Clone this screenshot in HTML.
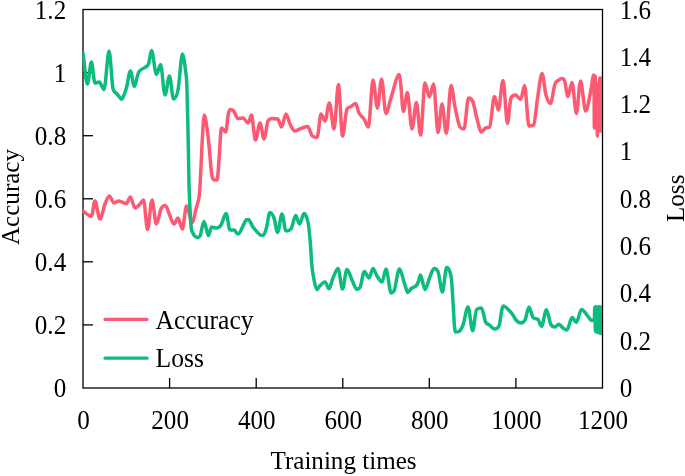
<!DOCTYPE html>
<html lang="en"><head><meta charset="utf-8"><title>Training curves</title>
<style>html,body{margin:0;padding:0;background:#fff;overflow:hidden}</style></head>
<body>
<svg width="685" height="476" viewBox="0 0 685 476" style="display:block">
<rect x="0" y="0" width="685" height="476" fill="#fff"/>
<g stroke="#000" stroke-width="1.3" fill="none">
<rect x="83.0" y="9.5" width="519.5" height="378.5"/>
<line x1="83.0" y1="324.9" x2="93.0" y2="324.9"/>
<line x1="83.0" y1="261.8" x2="93.0" y2="261.8"/>
<line x1="83.0" y1="198.8" x2="93.0" y2="198.8"/>
<line x1="83.0" y1="135.7" x2="93.0" y2="135.7"/>
<line x1="83.0" y1="72.6" x2="93.0" y2="72.6"/>
<line x1="169.6" y1="388.0" x2="169.6" y2="378.0"/>
<line x1="256.2" y1="388.0" x2="256.2" y2="378.0"/>
<line x1="342.8" y1="388.0" x2="342.8" y2="378.0"/>
<line x1="429.3" y1="388.0" x2="429.3" y2="378.0"/>
<line x1="515.9" y1="388.0" x2="515.9" y2="378.0"/>
</g>
<clipPath id="pc"><rect x="82.4" y="0" width="519.6" height="476"/></clipPath>
<g fill="none" stroke-width="3.5" stroke-linecap="round" stroke-linejoin="round" clip-path="url(#pc)">
<path d="M83,211C85.7,212.8 89,216.4 91,216.4C93,216.4 93.5,201 95,201C96.5,201 98.3,219 100,219C101.7,219 103.4,207.8 105,204C106.6,200.2 107.9,196 109.4,196C110.9,196 112.4,203 114,203C115.6,203 117,201 119,201C121,201 124.1,203.6 126,203.6C127.9,203.6 128.9,197 130.4,197C131.9,197 133.4,208 135,208C136.6,208 138.6,205.3 140,204C141.4,202.7 142.3,200 143.6,200C144.9,200 146.2,229.6 147.6,229.6C149,229.6 150.5,200 152,200C153.5,200 154.9,224 156.4,224C157.9,224 159.5,212.1 161,209C162.5,205.9 164,205.6 165.4,205.6C166.8,205.6 168.2,211.9 169.6,215C171,218.1 172.6,224 174,224C175.4,224 176.6,218 178,218C179.4,218 181,229 182.4,229C183.8,229 185,206 186.6,206C188.2,206 190.4,222.4 192,222.4C193.6,222.4 194.9,213 196,209C197.1,205 198.1,202.3 198.8,198.5C199.5,194.7 199.6,192.1 200,186C200.4,179.9 200.8,170 201.2,162C201.6,154 201.9,145.8 202.4,138C202.9,130.2 203.5,115 204.4,115C205.3,115 206.7,125.8 208,136C209.3,146.2 211.1,172.4 212,176C212.9,179.6 212.8,179.2 213.6,179.6C214.4,180 216.1,180 217,180C217.9,180 218.3,168.3 219,160C219.7,151.7 220.5,132 221,130C221.5,128 221.2,128 222,128C222.8,128 224.6,132 225.6,132C226.6,132 227.3,119.7 228,116C228.7,112.3 229.1,109.6 230,109.6C230.9,109.6 232.3,109.6 233.6,111C234.9,112.4 236.4,118.4 238,118.4C239.6,118.4 241.3,118 243,118C244.7,118 246.6,123 248,123C249.4,123 250.5,115 251.4,115C252.3,115 252.9,124.8 253.6,129C254.3,133.2 254.5,140 255.6,140C256.7,140 258.6,123 260,123C261.4,123 262.7,139 264,139C265.3,139 266.7,123.6 268,121C269.3,118.4 270.4,118.4 272,118.4C273.6,118.4 276,118.4 277.6,119C279.2,119.6 280.2,127 281.6,127C283,127 284.6,114 286,114C287.4,114 288.5,121.2 290,124C291.5,126.8 293,131 295,131C297,131 299.9,128.7 302,128C304.1,127.3 305.9,126.6 307.6,126.6C309.3,126.6 310.4,133.8 312,135.6C313.6,137.4 315.5,137.4 317,137.4C318.5,137.4 319.7,114 321,114C322.3,114 323.6,121 325,121C326.4,121 327.9,103 329.4,103C330.9,103 332.5,129 334,129C335.5,129 337,84.6 338.4,84.6C339.8,84.6 341.2,136 342.6,136C344,136 345.6,111.4 347,109C348.4,106.6 349.6,107.5 351,106.6C352.4,105.7 354.3,103.4 355.6,103.4C356.9,103.4 357.6,110.4 359,113C360.4,115.6 362.4,116.7 364,119C365.6,121.3 366.9,127 368.4,127C369.9,127 371.5,80 373,80C374.5,80 376,108 377.4,108C378.8,108 380.2,79 381.6,79C383,79 384.4,113.4 386,113.4C387.6,113.4 388.8,104.5 391,98C393.2,91.5 396.9,74.6 399,74.6C401.1,74.6 402,111.4 403.4,111.4C404.8,111.4 406,92.6 407.4,92.6C408.8,92.6 410.5,129 412,129C413.5,129 415,102.6 416.4,102.6C417.8,102.6 419.2,135 420.6,135C422,135 423.5,83 425,83C426.5,83 428,97 429.4,97C430.8,97 432.2,84 433.6,84C435,84 436.6,132.6 438,132.6C439.4,132.6 440.6,104 442,104C443.4,104 444.9,133.4 446.4,133.4C447.9,133.4 449.6,85.4 451,85.4C452.4,85.4 453.5,100.1 455,107C456.5,113.9 458.5,125 460,127C461.5,129 462.6,129 464,129C465.4,129 467.1,98 468.6,98C470.1,98 471.6,98.5 473,102C474.4,105.5 475.6,114 477,119C478.4,124 480,132 481.4,132C482.8,132 484.2,128.8 485.6,128C487,127.2 488.1,128 489.6,127C491.1,126 492.9,96.6 494.4,96.6C495.9,96.6 497,110 498.4,110C499.8,110 501.5,80.6 503,80.6C504.5,80.6 506.1,123.4 507.4,123.4C508.7,123.4 509.6,101 511,98C512.4,95 514,95 515.6,95C517.2,95 519.1,99.4 520.6,99.4C522.1,99.4 523.2,85.4 524.6,85.4C526,85.4 527.5,126 529,126C530.5,126 532.2,126 533.6,125C535,124 536.2,106.6 537.6,98C539,89.4 540.6,73.4 542,73.4C543.4,73.4 544.6,90 546,95C547.4,100 548.9,103.4 550.4,103.4C551.9,103.4 553.6,87.7 555,84C556.4,80.3 557.3,81.2 558.5,80.3C559.7,79.4 561,78.6 562,78.6C563,78.6 563.8,78.6 564.8,81.5C565.8,84.4 566.8,96.6 568,96.6C569.2,96.6 570.6,82.4 572,82.4C573.4,82.4 575,113.4 576.4,113.4C577.8,113.4 579.1,81 580.6,81C582.1,81 584,111 585.6,111C587.2,111 588.7,101 590,95C591.3,89 592.9,75 593.6,75C594.3,75 594.1,128 594.4,128C594.7,128 594.9,76 595.2,76C595.5,76 595.7,128 596,128C596.3,128 596.6,84 596.8,84C597,84 597.2,136 597.4,136C597.6,136 597.9,84 598.2,84C598.5,84 598.7,131 599,131C599.3,131 599.5,78 599.8,78C600.1,78 600.3,131 600.6,131C600.9,131 601.2,78 601.4,78C601.6,78 601.8,113.3 602,131" stroke="#fb5a72"/>
<path d="M83,53C84.5,63.3 86,84 87.4,84C88.8,84 90.1,62 91.4,62C92.7,62 93.7,83 95,83C96.3,83 97.9,82 99.4,82C100.9,82 102.4,89.6 104,89.6C105.6,89.6 107.5,51 109,51C110.5,51 111.7,83.4 113,88.6C114.3,93.8 115.7,92.2 117,93.8C118.3,95.4 119.8,97.5 120.6,98.4C121.4,99.3 121.3,99.4 121.7,99.4C122.1,99.4 122.1,99.4 122.9,97.6C123.7,95.8 125.2,92.4 126.4,88C127.7,83.6 129.1,71 130.4,71C131.7,71 133,86.4 134.4,86.4C135.8,86.4 136.7,75.2 139,71.6C141.3,68 145.9,68.5 148,65C150.1,61.5 150.2,50.4 151.6,50.4C153,50.4 154.9,74.4 156.4,74.4C157.9,74.4 159.2,64.4 160.6,64.4C162,64.4 163.5,95 165,95C166.5,95 168,76 169.4,76C170.8,76 172.2,99 173.6,99C175,99 176.5,97.5 178,90C179.5,82.5 181.1,54 182.4,54C183.7,54 185.2,68 186,74C186.8,80 186.6,77.3 187,90C187.4,102.7 188.1,134.3 188.4,150C188.7,165.7 188.8,175.7 189,184C189.2,192.3 189.3,193 189.6,200C189.9,207 190.5,220.6 191,226C191.5,231.4 191.9,230.8 192.6,232.5C193.3,234.2 194.2,235.5 195,236.3C195.8,237.1 196.7,237.4 197.6,237.4C198.5,237.4 199.1,237.4 200.2,235.6C201.3,233.8 202.6,221.6 204,221.6C205.4,221.6 207.1,235.6 208.4,235.6C209.7,235.6 210.3,227 211.6,227C212.9,227 214.8,228 216.4,228C218,228 219.4,227.4 221,225C222.6,222.6 224.5,213.6 226,213.6C227.5,213.6 228.7,230 230,230C231.3,230 232.6,230 234,230C235.4,230 236.3,234 238.4,234C240.5,234 244.7,220 246.4,219.8C248.1,219.6 247.5,219.6 248.6,219.6C249.7,219.6 251.4,224.7 253,227C254.6,229.3 257.1,232 258.4,233.4C259.7,234.8 260.1,235.2 261,235.2C261.9,235.2 262.7,235.2 263.6,235C264.5,234.8 265.3,231.8 266.4,228C267.5,224.2 268.7,212.4 270,212.4C271.3,212.4 272.7,214.7 274,218C275.3,221.3 276.3,232.4 277.6,232.4C278.9,232.4 280.6,214 282,214C283.4,214 284.5,231 286,231C287.5,231 289.4,231 291,229C292.6,227 294.2,215.6 295.6,215.6C297,215.6 298.2,224 299.6,224C301,224 302.6,213.6 304,213.6C305.4,213.6 306.9,216.9 308,222C309.1,227.1 309.7,236 310.4,244C311.1,252 311.3,262.4 312.4,270C313.5,277.6 315.5,289.6 316.8,289.6C318.1,289.6 318.6,286.9 320,285.6C321.4,284.3 323.5,282 325,282C326.5,282 327.7,288.8 329,288.8C330.3,288.8 331.5,281.4 333,278C334.5,274.6 336.4,268.4 338,268.4C339.6,268.4 341,289 342.5,289C344,289 345.4,269.6 347,269.6C348.6,269.6 350.4,276.7 352,280C353.6,283.3 355.3,289.2 356.6,289.2C357.9,289.2 358.7,289.2 360,287.4C361.3,285.6 362.9,271.6 364.4,271.6C365.9,271.6 367.6,278 369,278C370.4,278 371.7,268.4 373,268.4C374.3,268.4 375.5,273.7 377,276C378.5,278.3 380.5,282 382,282C383.5,282 384.5,269 386,269C387.5,269 389.7,293 391,293C392.3,293 392.6,293 394,291C395.4,289 397.7,269 399.4,269C401.1,269 402.8,278.5 404,282C405.2,285.5 406,288.2 406.6,290C407.2,291.8 407.4,292.6 407.8,292.6C408.2,292.6 408.5,291.8 409.2,291C409.9,290.2 410.9,288.8 412,288C413.1,287.2 414.9,287.1 416,286C417.1,284.9 417.6,283.4 418.4,281.6C419.2,279.8 419.5,275 420.6,275C421.7,275 423.5,289.5 425,289.5C426.5,289.5 428,281.5 429.5,278C431,274.5 432.6,268.4 434,268.4C435.4,268.4 436.6,268.4 438,271.6C439.4,274.8 441,292 442.4,292C443.8,292 445.2,267.6 446.6,267.6C448,267.6 449.9,270.3 451,276C452.1,281.7 452.3,292.7 453,302C453.7,311.3 454.4,332 455.3,332C456.2,332 457.3,332 458.6,331.6C459.9,331.2 461.4,329.1 463,325C464.6,320.9 466.4,307 468,307C469.6,307 471.2,330.8 472.6,330.8C474,330.8 475.1,311.2 476.6,309.6C478.1,308 479.9,308 481.4,308C482.9,308 484.3,319.2 485.6,322C486.9,324.8 487.9,323.8 489.4,325C490.9,326.2 493,329 494.6,329C496.2,329 497.5,329 499,326C500.5,323 501.4,306 503.4,306C505.4,306 508.9,310.1 511,312.4C513.1,314.7 514.4,318.2 516,320C517.6,321.8 519.1,323 520.6,323C522.1,323 523.6,322.7 525,320C526.4,317.3 527.7,307 529,307C530.3,307 531.5,315.5 533,317.5C534.5,319.5 536.6,318.1 538,319.5C539.4,320.9 540.2,326.2 541.6,326.2C543,326.2 544.9,309.8 546.4,309.8C547.9,309.8 549.4,321.8 550.8,324.4C552.2,327 553.7,327 555,327C556.3,327 557.5,324.2 558.8,324.2C560.1,324.2 561.6,327 563,328C564.4,329 565.5,330 567,330C568.5,330 570.4,317.6 572,317.6C573.6,317.6 574.8,322.4 576.4,322.4C578,322.4 579.7,309.6 581.6,309.6C583.5,309.6 586.5,314.7 588,316.4C589.5,318.1 589.7,319.1 590.6,319.8C591.5,320.5 593,320.6 593.6,320.6C594.2,320.6 594.2,320.2 594.4,318C594.6,315.8 594.6,307.2 594.8,307.2C595,307.2 595.2,331.6 595.4,331.6C595.6,331.6 595.8,306.6 596,306.6C596.2,306.6 596.5,332 596.7,332C596.9,332 597.2,307.6 597.4,307.6C597.6,307.6 597.9,332.6 598.1,332.6C598.4,332.6 598.6,306.6 598.9,306.6C599.2,306.6 599.4,333.2 599.7,333.2C600,333.2 600.2,307 600.5,307C600.8,307 601,333.4 601.2,333.4C601.4,333.4 601.6,315.8 601.8,307" stroke="#0dbc7c"/>
</g>
<g fill="none" stroke-width="3.2" stroke-linecap="round"><line x1="105" y1="319.4" x2="147" y2="319.4" stroke="#fb5a72"/><line x1="105" y1="358.2" x2="147" y2="358.2" stroke="#0dbc7c"/></g>
<g font-family="'Liberation Serif', 'Times New Roman', serif" font-size="25.1" fill="#000">
<text transform="translate(155.5,328.6) scale(1,1.04)" font-size="25.6">Accuracy</text>
<text transform="translate(155.5,366.9) scale(1,1.04)" font-size="25.6">Loss</text>
<text transform="translate(66.2,397) scale(1,1.06)" text-anchor="end">0</text>
<text transform="translate(66.2,333.9) scale(1,1.06)" text-anchor="end">0.2</text>
<text transform="translate(66.2,270.8) scale(1,1.06)" text-anchor="end">0.4</text>
<text transform="translate(66.2,207.8) scale(1,1.06)" text-anchor="end">0.6</text>
<text transform="translate(66.2,144.7) scale(1,1.06)" text-anchor="end">0.8</text>
<text transform="translate(66.2,81.6) scale(1,1.06)" text-anchor="end">1</text>
<text transform="translate(66.2,18.5) scale(1,1.06)" text-anchor="end">1.2</text>
<text transform="translate(619.8,397) scale(1,1.06)">0</text>
<text transform="translate(619.8,349.7) scale(1,1.06)">0.2</text>
<text transform="translate(619.8,302.4) scale(1,1.06)">0.4</text>
<text transform="translate(619.8,255.1) scale(1,1.06)">0.6</text>
<text transform="translate(619.8,207.8) scale(1,1.06)">0.8</text>
<text transform="translate(619.8,160.4) scale(1,1.06)">1</text>
<text transform="translate(619.8,113.1) scale(1,1.06)">1.2</text>
<text transform="translate(619.8,65.8) scale(1,1.06)">1.4</text>
<text transform="translate(619.8,18.5) scale(1,1.06)">1.6</text>
<text transform="translate(83.5,429.2) scale(1,1.06)" text-anchor="middle">0</text>
<text transform="translate(170.1,429.2) scale(1,1.06)" text-anchor="middle">200</text>
<text transform="translate(256.7,429.2) scale(1,1.06)" text-anchor="middle">400</text>
<text transform="translate(343.2,429.2) scale(1,1.06)" text-anchor="middle">600</text>
<text transform="translate(429.8,429.2) scale(1,1.06)" text-anchor="middle">800</text>
<text transform="translate(516.4,429.2) scale(1,1.06)" text-anchor="middle">1000</text>
<text transform="translate(603,429.2) scale(1,1.06)" text-anchor="middle">1200</text>
<text transform="translate(343.5,468.6) scale(1,1.04)" text-anchor="middle">Training times</text>
<text transform="translate(18.5,197) rotate(-90) scale(1,1.04)" text-anchor="middle">Accuracy</text>
<text transform="translate(684,198.3) rotate(-90) scale(1,1.04)" text-anchor="middle">Loss</text>
</g></svg>
</body></html>
